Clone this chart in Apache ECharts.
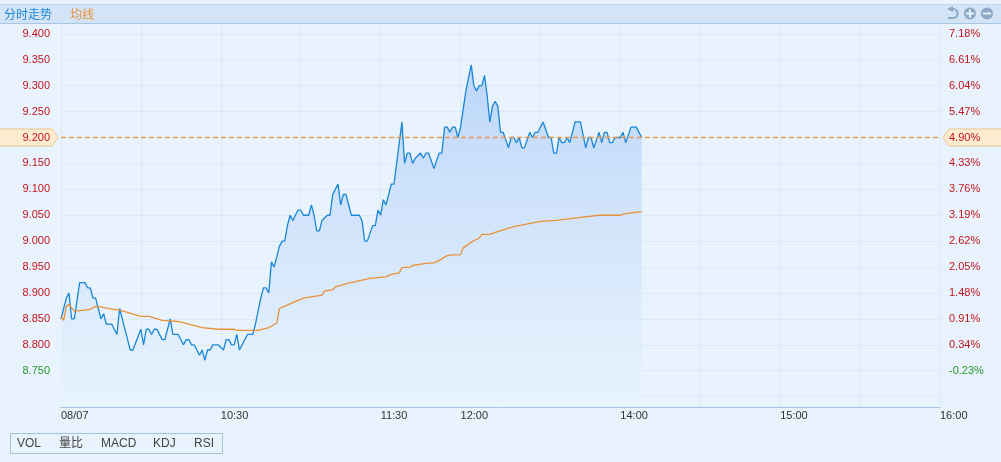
<!DOCTYPE html>
<html>
<head>
<meta charset="utf-8">
<style>
html,body{margin:0;padding:0;background:#e8f3fd;}
#main{width:1001px;height:462px;}
</style>
<script src="https://cdn.jsdelivr.net/npm/echarts@6/dist/echarts.min.js"></script>
</head>
<body>
<div id="main"></div>
<script>
// minutes counted from the open on the drawn time scale
var priceMinutes = [0,1,2,3,4,5,7,9,10,11,12,13,14,15,16,17,19,21,22,23,25,26,27,30,31,32,33,34,35,36,38,39,41,42,44,46,47,48,49,50,52,53,54,55,56,57,59,61,62,63,64,65,66,67,68,70,72,73,75,76,77,78,79,80,82,83,84,85,86,87,89,90,91,93,94,95,96,97,98,100,101,102,104,105,106,107,109,112,113,114,115,117,118,119,120,121,122,124,125,126,127,128,129,130,131,132,133,135,136,137,138,140,142,143,144,145,146,147,148,149,150,152,154,155,156,157,158,159,160,161,162,163,164,165,166,168,169,170,171,172,173,174,176,177,178,179,181,183,184,185,186,187,188,189,190,191,193,195,197,198,199,200,202,203,204,205,206,207,208,210,211,212,214,216,218];
var priceValues = [8.85,8.87,8.89,8.90,8.85,8.85,8.92,8.92,8.91,8.91,8.89,8.89,8.87,8.85,8.86,8.84,8.84,8.82,8.87,8.85,8.81,8.79,8.79,8.83,8.80,8.83,8.83,8.82,8.83,8.83,8.81,8.81,8.85,8.82,8.82,8.80,8.81,8.81,8.80,8.80,8.78,8.79,8.77,8.79,8.79,8.80,8.80,8.79,8.81,8.81,8.80,8.80,8.82,8.79,8.80,8.82,8.82,8.84,8.89,8.91,8.91,8.90,8.96,8.95,8.99,9.00,9.00,9.03,9.05,9.04,9.06,9.06,9.05,9.05,9.07,9.05,9.02,9.02,9.04,9.05,9.05,9.09,9.11,9.07,9.09,9.09,9.05,9.05,9.04,9.00,9.00,9.03,9.03,9.06,9.05,9.08,9.07,9.11,9.11,9.15,9.19,9.23,9.15,9.17,9.17,9.15,9.16,9.17,9.16,9.17,9.17,9.14,9.17,9.17,9.22,9.22,9.21,9.22,9.22,9.20,9.22,9.29,9.34,9.30,9.29,9.30,9.30,9.32,9.28,9.23,9.26,9.27,9.26,9.21,9.21,9.18,9.20,9.20,9.19,9.20,9.18,9.18,9.21,9.20,9.21,9.21,9.23,9.20,9.20,9.17,9.17,9.20,9.19,9.19,9.20,9.19,9.23,9.23,9.18,9.20,9.20,9.18,9.21,9.19,9.21,9.21,9.19,9.19,9.20,9.20,9.21,9.19,9.22,9.22,9.20];
var avgMinutes = [0,1,2,3,5,9,11,13,15,18,22,30,33,38,44,48,53,59,65,66,74,78,81,82,86,91,98,99,102,103,108,116,122,124,127,128,131,132,137,140,142,145,146,150,151,154,157,158,161,163,170,180,186,195,202,210,212,218];
var avgValues = [8.855,8.847,8.874,8.878,8.865,8.867,8.869,8.874,8.873,8.870,8.867,8.855,8.855,8.847,8.845,8.840,8.833,8.830,8.830,8.828,8.828,8.833,8.842,8.870,8.879,8.890,8.896,8.904,8.906,8.912,8.919,8.928,8.931,8.936,8.939,8.949,8.950,8.953,8.957,8.958,8.963,8.972,8.973,8.974,8.987,8.998,9.006,9.013,9.013,9.017,9.028,9.038,9.040,9.046,9.050,9.050,9.053,9.057];
var lastPrice = 9.20;
var priceTicks = [8.70,8.75,8.80,8.85,8.90,8.95,9.00,9.05,9.10,9.15,9.20,9.25,9.30,9.35,9.40];
var priceLabels = ['','8.750','8.800','8.850','8.900','8.950','9.000','9.050','9.100','9.150','9.200','9.250','9.300','9.350','9.400'];
var percentLabels = ['','-0.23%','0.34%','0.91%','1.48%','2.05%','2.62%','3.19%','3.76%','4.33%','4.90%','5.47%','6.04%','6.61%','7.18%'];
var timeTicks = [0,60,120,150,210,270,330];
var timeLabels = ['08/07','10:30','11:30','12:00','14:00','15:00','16:00'];
var buttonNames = ['VOL','量比','MACD','KDJ','RSI'];
var buttonLefts = [17,59,101,153,194];

var fontFamily = 'Arial, "Liberation Sans", "Noto Sans CJK SC", sans-serif';
var upColor = '#c4141c', downColor = '#2b962b';

function zip(xs,ys){
	return xs.map(function(x,i){ return [x,ys[i]]; });
}
function tickIndex(val){
	return priceTicks.findIndex(function(t){ return Math.abs(t-val)<1e-6; });
}
function tagColor(val){
	return val<8.77 ? downColor : upColor;
}

var chart = echarts.init(document.getElementById('main'));

function yAxisOption(position,labels,margin){
	return {
		type:'value',
		position:position,
		min:8.68,
		max:9.419,
		axisLine:{show:false},
		axisTick:{show:false,customValues:priceTicks},
		splitLine:{show:true,lineStyle:{color:'#dbe9f5',width:1}},
		axisLabel:{
			customValues:priceTicks,
			margin:margin,
			fontFamily:fontFamily,
			fontSize:11,
			color:function(val){ return tagColor(val); },
			formatter:function(val){ return labels[tickIndex(val)]; }
		}
	};
}

var option = {
	animation:false,
	backgroundColor:'#e8f3fd',
	grid:{left:61,right:61,top:24,bottom:55},
	legend:{
		left:-6,
		top:5,
		itemWidth:0,
		itemHeight:0,
		itemGap:13,
		icon:'none',
		selectedMode:false,
		data:[
			{name:'分时走势',textStyle:{color:'#1a87d6'}},
			{name:'均线',textStyle:{color:'#e8913a'}}
		],
		textStyle:{fontFamily:fontFamily,fontSize:12,padding:0}
	},
	xAxis:{
		type:'value',
		min:0,
		max:330,
		interval:30,
		axisLine:{onZero:false,lineStyle:{color:'#a6c4e0',width:1}},
		axisTick:{show:false},
		splitLine:{show:true,lineStyle:{color:'#dbe9f5',width:1}},
		axisLabel:{
			customValues:timeTicks,
			margin:3,
			align:'left',
			fontFamily:fontFamily,
			fontSize:11,
			color:'#333',
			hideOverlap:false,
			formatter:function(val){ return timeLabels[timeTicks.indexOf(val)]; }
		}
	},
	yAxis:[yAxisOption('left',priceLabels,11),yAxisOption('right',percentLabels,9)],
	series:[
		{
			name:'分时走势',
			type:'line',
			data:zip(priceMinutes,priceValues),
			showSymbol:false,
			color:'#1a87d6',
			lineStyle:{color:'#1a87d6',width:1.3},
			areaStyle:{
				origin:'start',
				opacity:1,
				color:new echarts.graphic.LinearGradient(0,0,0,1,[
					{offset:0,color:'#bcd6f9'},
					{offset:0.3,color:'#cbe0fb'},
					{offset:0.8,color:'#e0eefc'},
					{offset:1,color:'#e7f3fd'}
				])
			},
			z:3
		},
		{
			name:'现价',
			type:'line',
			data:[[0,lastPrice],[330,lastPrice]],
			showSymbol:false,
			color:'#e8913a',
			lineStyle:{color:'#ea9a48',type:[5,3],width:1.6,opacity:1},
			z:5
		},
		{
			name:'均线',
			type:'line',
			data:zip(avgMinutes,avgValues),
			showSymbol:false,
			color:'#e8913a',
			lineStyle:{color:'#e8913a',width:1.3},
			z:4
		}
	]
};
chart.setOption(option);

// header band, tags, toolbar icons and indicator buttons around the plot
var tagY = chart.convertToPixel({yAxisIndex:0},lastPrice);
var graphics = [
	{type:'rect',z:-1,shape:{x:0,y:4,width:1001,height:19},style:{fill:'#d3e4f6'}},
	{type:'line',z:-1,shape:{x1:0,y1:4.5,x2:1001,y2:4.5},style:{stroke:'#c4d9ec',lineWidth:1}},
	{type:'line',z:-1,shape:{x1:0,y1:23.5,x2:1001,y2:23.5},style:{stroke:'#a6c6e6',lineWidth:1}},
	{type:'polygon',z:-1,shape:{points:[[-2,tagY-8.5],[52,tagY-8.5],[58,tagY],[52,tagY+8.5],[-2,tagY+8.5]]},style:{fill:'#fdecd0',stroke:'#efc48c',lineWidth:1}},
	{type:'polygon',z:-1,shape:{points:[[1003,tagY-8.5],[949,tagY-8.5],[943,tagY],[949,tagY+8.5],[1003,tagY+8.5]]},style:{fill:'#fdecd0',stroke:'#efc48c',lineWidth:1}},
	// undo icon
	{type:'arc',shape:{cx:953,cy:13.5,r:4.5,startAngle:-Math.PI/2,endAngle:Math.PI/2},style:{stroke:'#8ea9c6',lineWidth:2,fill:null}},
	{type:'line',shape:{x1:953,y1:18,x2:948,y2:18},style:{stroke:'#8ea9c6',lineWidth:2}},
	{type:'polygon',shape:{points:[[947,9],[953,6],[953,12]]},style:{fill:'#8ea9c6'}},
	// zoom in
	{type:'circle',shape:{cx:970,cy:13.5,r:6},style:{fill:'#8ea9c6'}},
	{type:'line',shape:{x1:966,y1:13.5,x2:974,y2:13.5},style:{stroke:'#e8f3fd',lineWidth:2}},
	{type:'line',shape:{x1:970,y1:9.5,x2:970,y2:17.5},style:{stroke:'#e8f3fd',lineWidth:2}},
	// zoom out
	{type:'circle',shape:{cx:987,cy:13.5,r:6},style:{fill:'#8ea9c6'}},
	{type:'line',shape:{x1:983,y1:13.5,x2:991,y2:13.5},style:{stroke:'#e8f3fd',lineWidth:2}},
	// indicator buttons
	{type:'rect',shape:{x:10.5,y:433.5,width:212,height:20},style:{fill:'#e8f3fd',stroke:'#a6c2da',lineWidth:1}}
];
buttonNames.forEach(function(name,i){
	graphics.push({
		type:'text',
		left:buttonLefts[i],
		top:438,
		style:{text:name,fill:'#444',font:'12px '+fontFamily}
	});
});
chart.setOption({graphic:graphics});
</script>
</body>
</html>
